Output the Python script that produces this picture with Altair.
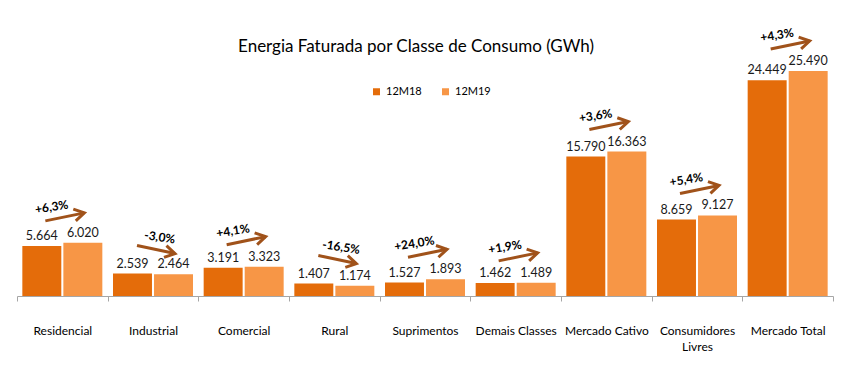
import altair as alt
import pandas as pd

categorias = ["Residencial", "Industrial", "Comercial", "Rural", "Suprimentos",
              "Demais Classes", "Mercado Cativo", "Consumidores Livres", "Mercado Total"]
v_12m18 = [5664, 2539, 3191, 1407, 1527, 1462, 15790, 8659, 24449]
v_12m19 = [6020, 2464, 3323, 1174, 1893, 1489, 16363, 9127, 25490]
variacao = ["+6,3%", "-3,0%", "+4,1%", "-16,5%", "+24,0%", "+1,9%", "+3,6%", "+5,4%", "+4,3%"]
series = ["12M18", "12M19"]
titulo = ["Energia Faturada  por  Classe de  Consumo  (GWh)"]
cores = ["#E46C0A", "#F79646"]
cor_seta = "#A0521A"
FONT = "Lato"

def fmt(v):
    return f"{v:,}".replace(",", ".")

rows = []
for c, a, b in zip(categorias, v_12m18, v_12m19):
    rows.append({"cat": c, "serie": series[0], "valor": a, "rot": fmt(a)})
    rows.append({"cat": c, "serie": series[1], "valor": b, "rot": fmt(b)})
bars_df = pd.DataFrame(rows)

arr_df = pd.DataFrame({
    "cat": categorias,
    "topo": [max(a, b) for a, b in zip(v_12m18, v_12m19)],
    "var": variacao,
    "sobe": [b >= a for a, b in zip(v_12m18, v_12m19)],
})

x_enc = alt.X("cat:N", sort=categorias, title=None,
              scale=alt.Scale(paddingInner=0, paddingOuter=0),
              axis=alt.Axis(labelAngle=0, tickBand="extent", domainColor="#A6A6A6",
                            tickColor="#A6A6A6", tickSize=5, labelFont=FONT,
                            labelFontSize=12, labelColor="#000000", labelPadding=24,
                            labelLineHeight=16,
                            labelExpr="datum.label == 'Consumidores Livres' ? ['Consumidores', 'Livres'] : datum.label"))
y_scale = alt.Scale(domain=[0, 26960], nice=False)

base = alt.Chart(bars_df)

bars = base.mark_bar().encode(
    x=x_enc,
    xOffset=alt.XOffset("serie:N", sort=series,
                        scale=alt.Scale(paddingInner=0.05, paddingOuter=0.13)),
    y=alt.Y("valor:Q", axis=None, scale=y_scale),
    color=alt.Color("serie:N", sort=series,
                    scale=alt.Scale(domain=series, range=cores),
                    legend=alt.Legend(title=None, orient="none", direction="horizontal",
                                      legendX=354, legendY=28, symbolType="square",
                                      symbolSize=49, labelFont=FONT, labelFontSize=11,
                                      labelColor="#000000", columnPadding=18)),
)

vals = base.mark_text(baseline="bottom", dy=-3, font=FONT, fontSize=12.5, color="#1a1a1a").encode(
    x=alt.X("cat:N", sort=categorias),
    xOffset=alt.XOffset("serie:N", sort=series),
    y=alt.Y("valor:Q", scale=y_scale),
    text="rot:N",
)

arr = alt.Chart(arr_df)
up = arr.transform_filter("datum.sobe")
down = arr.transform_filter("!datum.sobe")

shaft_up = up.mark_rule(color=cor_seta, strokeWidth=3, xOffset=-17, x2Offset=22,
                        yOffset=-22, y2Offset=-30).encode(
    x=alt.X("cat:N", sort=categorias), x2="cat:N",
    y=alt.Y("topo:Q", scale=y_scale), y2="topo:Q")
shaft_down = down.mark_rule(color=cor_seta, strokeWidth=3, xOffset=-16, x2Offset=22,
                            yOffset=-28, y2Offset=-20).encode(
    x=alt.X("cat:N", sort=categorias), x2="cat:N",
    y=alt.Y("topo:Q", scale=y_scale), y2="topo:Q")

head_path = "M-2,-1.2L0,0L-2,1.2"
head_up = up.mark_point(shape=head_path, filled=False, stroke=cor_seta, strokeWidth=3,
                        size=100, angle=348, xOffset=22, yOffset=-30, opacity=1).encode(
    x=alt.X("cat:N", sort=categorias), y=alt.Y("topo:Q", scale=y_scale))
head_down = down.mark_point(shape=head_path, filled=False, stroke=cor_seta, strokeWidth=3,
                            size=100, angle=12, xOffset=22, yOffset=-20, opacity=1).encode(
    x=alt.X("cat:N", sort=categorias), y=alt.Y("topo:Q", scale=y_scale))

pct_up = up.mark_text(font=FONT, fontSize=12, fontWeight="bold", color="#000000",
                      angle=351, dx=-5, dy=-37).encode(
    x=alt.X("cat:N", sort=categorias), y=alt.Y("topo:Q", scale=y_scale), text="var:N")
pct_down = down.mark_text(font=FONT, fontSize=12, fontWeight="bold", color="#000000",
                          angle=9, dx=1, dy=-37).encode(
    x=alt.X("cat:N", sort=categorias), y=alt.Y("topo:Q", scale=y_scale), text="var:N")

title_mark = alt.Chart(pd.DataFrame({"t": titulo})).mark_text(
    font=FONT, fontSize=17, color="#000000", align="center", baseline="middle"
).encode(x=alt.value(399), y=alt.value(-11), text="t:N")

chart = alt.layer(bars, vals, shaft_up, shaft_down, head_up, head_down, pct_up, pct_down,
                  title_mark).properties(
    width=816, height=238,
    autosize=alt.AutoSizeParams(type="none"),
    padding={"left": 9, "top": 50, "right": 8, "bottom": 70},
).configure_view(stroke=None)

chart.save("out.html", embed_options={"renderer": "svg", "actions": False})
